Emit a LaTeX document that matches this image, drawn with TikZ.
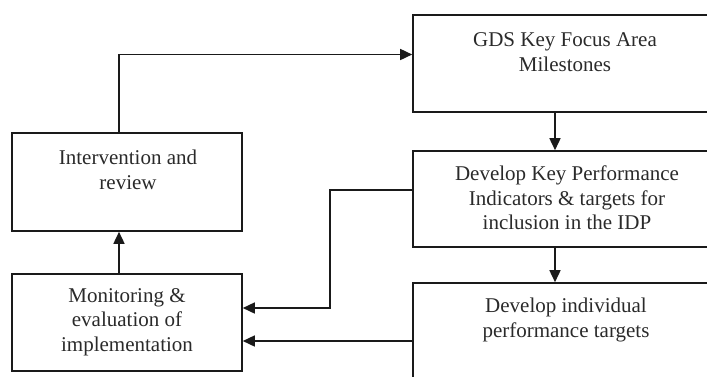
\documentclass[tikz,border=0pt]{standalone}
\usepackage{fontspec}
\setmainfont{Liberation Serif}
\usetikzlibrary{arrows.meta}
\definecolor{ink}{HTML}{1A1A1A}
\definecolor{txtc}{HTML}{2A2A2A}
\tikzset{
  box/.style={draw=ink, line width=1.6pt, rectangle, inner sep=0pt},
  lbl/.style={align=center, text=txtc, font=\fontsize{21pt}{24.5pt}\selectfont, inner sep=0pt},
  arr/.style={draw=ink, line width=1.6pt, -{Triangle[length=12pt,width=11pt]}},
}
\begin{document}
\begin{tikzpicture}[x=1pt,y=-1pt]
\useasboundingbox (0,0) rectangle (707,376);
\clip (0,0) rectangle (707,376);
% boxes
\node[box, minimum width=304pt, minimum height=97pt] (gds) at (565,63.5) {};
\node[box, minimum width=304pt, minimum height=96pt] (kpi) at (565,199) {};
\node[box, minimum width=304pt, minimum height=107pt] (ind) at (565,336.5) {};
\node[box, minimum width=230pt, minimum height=98pt] (int) at (127,182) {};
\node[box, minimum width=230pt, minimum height=97pt] (mon) at (127,322.5) {};
% texts
\node[lbl] (gdst) at (565,52) {GDS Key Focus Area\\Milestones};
\node[lbl] (kpit) at (567,198) {Develop Key Performance\\Indicators \& targets for\\inclusion in the IDP};
\node[lbl] (indt) at (566,320) {Develop individual\\performance targets};
\node[lbl] (intt) at (128,170) {Intervention and\\review};
\node[lbl] (mont) at (127,322) {Monitoring \&\\evaluation of\\implementation};
% connectors
\coordinate (t1) at ([xshift=-8pt]int.north);
\coordinate (g1) at ([yshift=9pt]gds.west);
\draw[arr] (t1) |- (g1);
\draw[arr] ([xshift=-8pt]mon.north) -- ([xshift=-8pt]int.south);
\draw[arr] ([xshift=-10pt]gds.south) -- ([xshift=-10pt]kpi.north);
\draw[arr] ([xshift=-10pt]kpi.south) -- ([xshift=-10pt]ind.north);
\coordinate (m1) at ([yshift=14.5pt]mon.east);
\coordinate (k1) at ([yshift=9pt]kpi.west);
\coordinate (c1) at (330,190);
\draw[arr] (k1) -- (c1) |- (m1);
\coordinate (m2) at ([yshift=-18.5pt]mon.east);
\draw[arr] (ind.west |- m2) -- (m2);
\end{tikzpicture}
\end{document}
